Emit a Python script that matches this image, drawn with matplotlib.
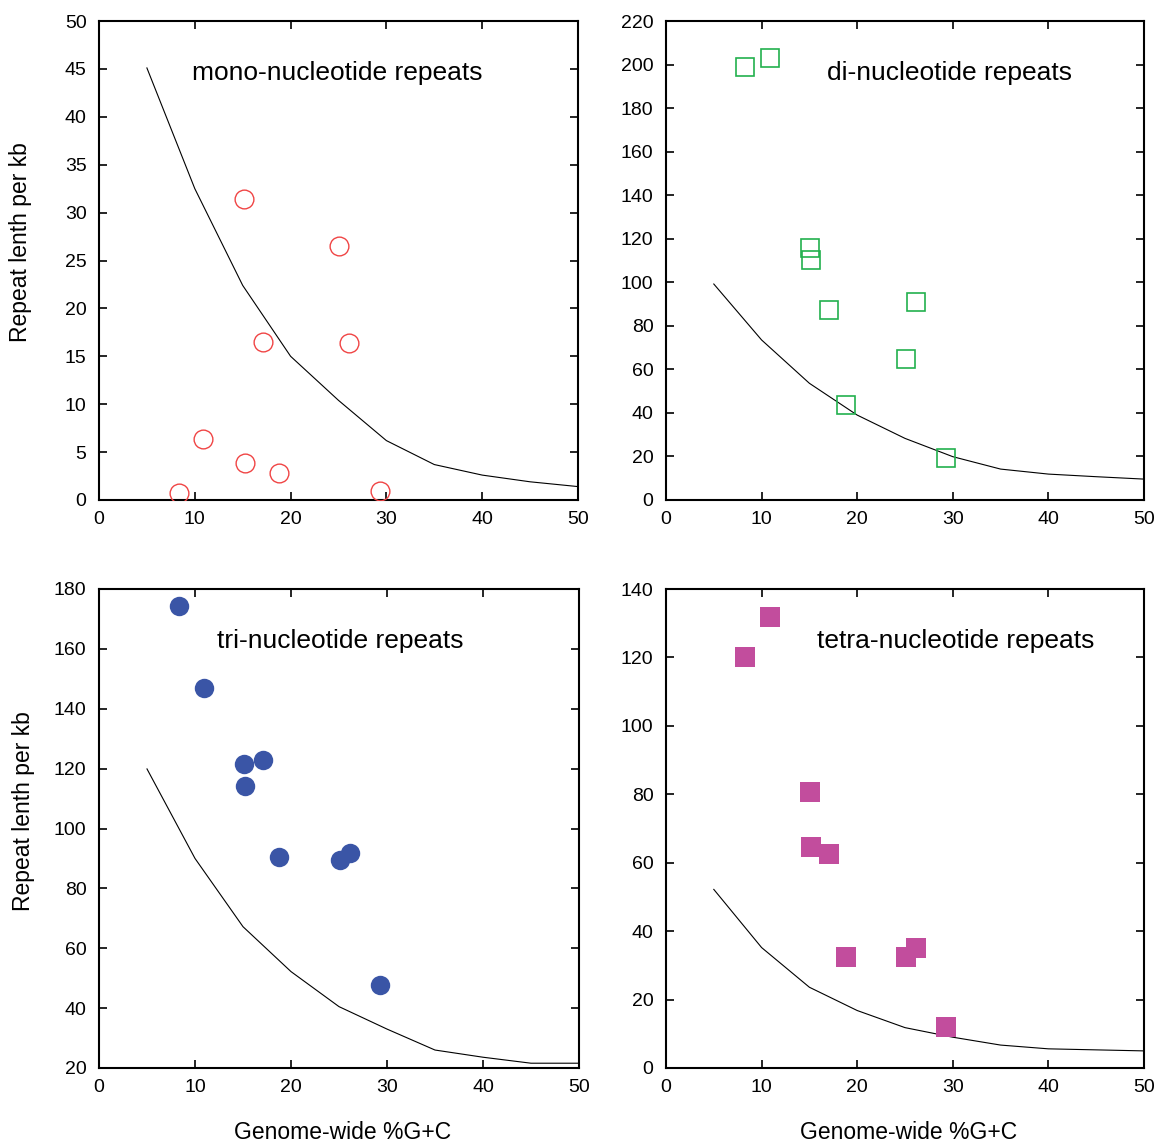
import matplotlib
matplotlib.use('Agg')
import matplotlib.pyplot as plt

plt.rcParams['font.family'] = ['Liberation Sans', 'DejaVu Sans']

# Genome-wide %G+C of the genomes (same for every panel)
gc = [8.3, 10.9, 15.1, 15.2, 17.1, 18.8, 25.1, 26.1, 29.3]

# Observed repeat length per kb
mono = [0.7, 6.4, 31.4, 3.9, 16.5, 2.8, 26.5, 16.4, 0.9]
di = [198.9, 203.0, 115.6, 110.1, 87.4, 43.5, 64.8, 90.8, 19.1]
tri = [174.4, 147.0, 121.5, 114.3, 122.9, 90.4, 89.5, 91.7, 47.7]
tetra = [120.1, 131.7, 80.7, 64.7, 62.5, 32.5, 32.5, 35.2, 12.1]

# Expected curves (random sequence)
exp_gc = [5, 10, 15, 20, 25, 30, 35, 40, 45, 50]
mono_exp = [45.1, 32.5, 22.4, 15.0, 10.4, 6.2, 3.7, 2.6, 1.9, 1.4]
di_exp = [99.2, 73.5, 53.6, 39.0, 28.3, 19.9, 14.2, 11.9, 10.7, 9.6]
tri_exp = [119.9, 90.0, 67.2, 52.2, 40.5, 33.0, 26.0, 23.6, 21.6, 21.6]
tetra_exp = [52.2, 35.2, 23.6, 16.8, 11.8, 9.0, 6.7, 5.6, 5.3, 5.0]

titles = ['mono-nucleotide repeats', 'di-nucleotide repeats',
          'tri-nucleotide repeats', 'tetra-nucleotide repeats']

fig = plt.figure(figsize=(11.65, 11.42), dpi=100)

W, H = 1165, 1142
boxes = [(99, 21, 578, 500), (666, 21, 1144, 500),
         (99, 589, 579, 1068), (666, 589, 1144, 1068)]
axes = []
for (l, t, r, b) in boxes:
    axes.append(fig.add_axes([l / W, 1 - b / H, (r - l) / W, (b - t) / H]))

panels = [
    (mono, mono_exp, dict(marker='o', mfc='none', mec='#f04545', mew=1.0, ms=13.5), (0, 50), range(0, 51, 5), 0.497),
    (di, di_exp, dict(marker='s', mfc='none', mec='#22b04e', mew=1.2, ms=13), (0, 220), range(0, 221, 20), 0.593),
    (tri, tri_exp, dict(marker='o', mfc='#3a55a6', mec='#3a55a6', mew=0, ms=14), (20, 180), range(20, 181, 20), 0.502),
    (tetra, tetra_exp, dict(marker='s', mfc='#c24d9d', mec='#c24d9d', mew=0, ms=14), (0, 140), range(0, 141, 20), 0.606),
]

for i, (ax, (obs, expv, mk, ylim, yt, tx)) in enumerate(zip(axes, panels)):
    ax.plot(exp_gc, expv, color='black', lw=0.8, zorder=2)
    ax.plot(gc, obs, ls='none', zorder=3, **mk)
    ax.set_xlim(0, 50)
    ax.set_ylim(*ylim)
    ax.set_xticks(range(0, 51, 10))
    ax.set_yticks(list(yt))
    ax.tick_params(direction='in', top=True, right=True, length=6, width=1.2,
                   labelsize=14, colors='black')
    ax.tick_params(axis='y', pad=9)
    ax.tick_params(axis='x', pad=8)
    for sp in ax.spines.values():
        sp.set_linewidth(1.5)
    ax.text(tx, 0.891, titles[i], transform=ax.transAxes, fontsize=19,
            ha='center', va='center')

axes[0].set_ylabel('Repeat lenth per kb', fontsize=16.5)
axes[0].yaxis.set_label_coords(-0.14, 0.539)
axes[2].set_ylabel('Repeat lenth per kb', fontsize=16.5)
axes[2].yaxis.set_label_coords(-0.134, 0.537)
for ax in axes[2:]:
    ax.set_xlabel('Genome-wide %G+C', fontsize=16.5)
    ax.xaxis.set_label_coords(0.508, -0.11)

fig.savefig('out.png', dpi=100)
